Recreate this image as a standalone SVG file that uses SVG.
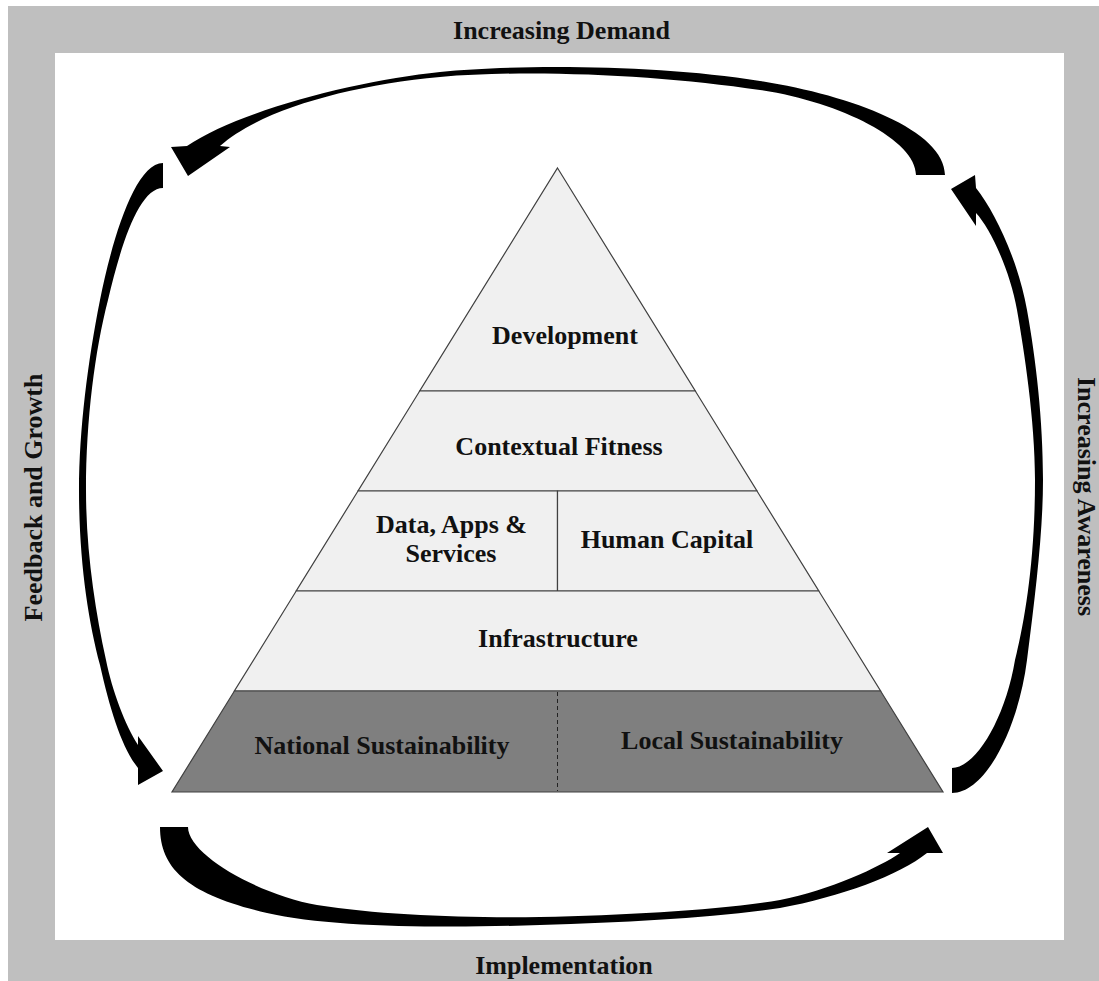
<svg xmlns="http://www.w3.org/2000/svg" width="1099" height="981" viewBox="0 0 1099 981">
  <style>
    .lbl { font-family: "Liberation Serif", "Times New Roman", serif; font-weight: bold; font-size: 26px; fill: #111; text-anchor: middle; }
    .band { fill: #f0f0f0; stroke: #404040; stroke-width: 1.2; }
    .base { fill: #7f7f7f; stroke: #404040; stroke-width: 1.2; }
    .arrow { fill: #000; stroke: none; }
  </style>

  <!-- frame -->
  <g id="frame">
    <rect x="8" y="6" width="1091" height="975" fill="#bfbfbf"/>
    <rect x="55" y="53" width="1009" height="887" fill="#ffffff"/>
    <text class="lbl" x="561.5" y="39">Increasing Demand</text>
    <text class="lbl" x="564" y="974">Implementation</text>
    <text class="lbl" transform="translate(42 497.5) rotate(-90)">Feedback and Growth</text>
    <text class="lbl" transform="translate(1078 496.5) rotate(90)">Increasing Awareness</text>
  </g>

  <!-- pyramid layers -->
  <g id="development">
    <polygon class="band" points="557.5,168 695.3,391 419.7,391"/>
    <text class="lbl" x="565" y="344">Development</text>
  </g>
  <g id="contextual-fitness">
    <polygon class="band" points="419.7,391 695.3,391 757,491 358,491"/>
    <text class="lbl" x="559" y="455">Contextual Fitness</text>
  </g>
  <g id="data-apps-services">
    <polygon class="band" points="358,491 557.5,491 557.5,591 296.2,591"/>
    <text class="lbl" x="451.5" y="533">Data, Apps &amp;</text>
    <text class="lbl" x="451" y="562">Services</text>
  </g>
  <g id="human-capital">
    <polygon class="band" points="557.5,491 757,491 818.8,591 557.5,591"/>
    <text class="lbl" x="667" y="548">Human Capital</text>
  </g>
  <g id="infrastructure">
    <polygon class="band" points="296.2,591 818.8,591 880.6,691 234.4,691"/>
    <text class="lbl" x="558" y="647">Infrastructure</text>
  </g>
  <g id="sustainability">
    <polygon class="base" points="234.4,691 880.6,691 943,792 172,792"/>
    <line x1="557.5" y1="692" x2="557.5" y2="791" stroke="#222" stroke-width="1" stroke-dasharray="4,3"/>
    <text class="lbl" x="382" y="754">National Sustainability</text>
    <text class="lbl" x="732" y="749">Local Sustainability</text>
  </g>

  <!-- curved block arrows around the pyramid -->
  <g id="connectors">
    <!-- top: Increasing Demand -->
    <path class="arrow" d="M945,175 C945,130 850,95 760,81 C660,65 520,64 440,72 C360,80 240,110 187,146 L171,147 L188,176 L230,147 L220,146 C260,110 350,85 440,77 C530,69 660,75 760,90 C840,102 916,140 916,175 Z"/>
    <!-- right: Increasing Awareness -->
    <path class="arrow" d="M952,793 C985,793 1018,730 1027,660 C1036,590 1043,530 1043,480 C1043,420 1036,360 1027,310 C1018,260 995,212 976,188 L975,175 L951,189 L976,226 L976,213 C990,228 1010,270 1017,310 C1024,350 1035,420 1035,480 C1035,560 1025,620 1015,660 C1005,720 975,768 952,768 Z"/>
    <!-- left: Feedback and Growth -->
    <path class="arrow" d="M163,163 C135,163 112,240 100,300 C88,360 79,430 79,490 C79,560 88,620 100,665 C110,710 122,748 138,768 L138,785 L163,771 L138,736 L138,745 C125,725 112,690 106,660 C95,610 86,550 86,490 C86,420 95,350 108,300 C122,240 140,188 163,188 Z"/>
    <!-- bottom: Implementation -->
    <path class="arrow" d="M160,827 C160,870 190,895 267,913 C330,928 450,928 540,925 C630,922 710,918 780,908 C840,897 900,875 927,853 L943,853 L928,827 L887,853 L900,853 C880,867 830,890 780,900 C720,910 630,915 540,917 C460,918 380,915 317,905 C260,895 188,855 188,827 Z"/>
  </g>
</svg>
